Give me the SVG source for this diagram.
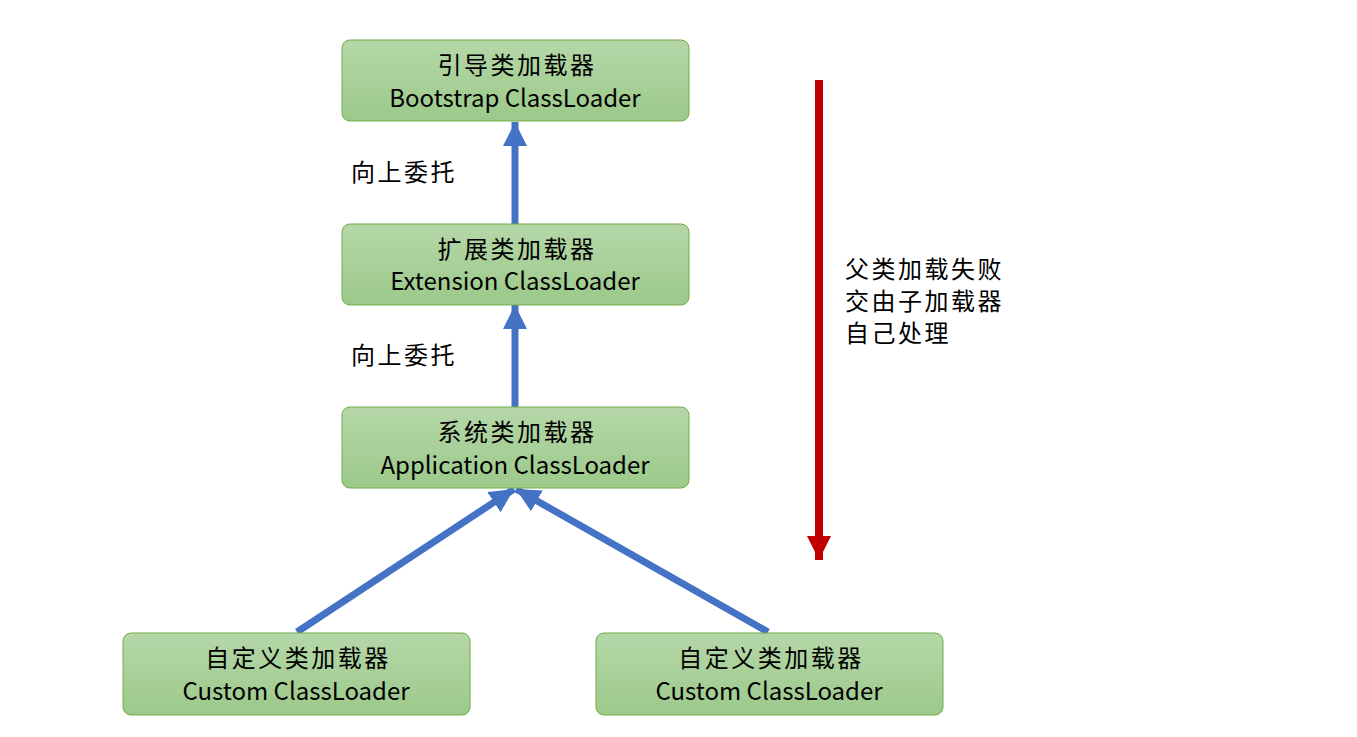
<svg xmlns="http://www.w3.org/2000/svg" width="1357" height="737" viewBox="0 0 1357 737">
  <defs>
    <linearGradient id="boxFill" x1="0" y1="0" x2="0" y2="1">
      <stop offset="0" stop-color="#b5d7a8"/>
      <stop offset="1" stop-color="#9cc98a"/>
    </linearGradient>
    <marker id="blueHead" markerUnits="userSpaceOnUse" markerWidth="24" markerHeight="26" refX="24" refY="12" orient="auto">
      <path d="M0,0 L24,12 L0,24 Z" fill="#4472c4"/>
    </marker>
    <marker id="redHead" markerUnits="userSpaceOnUse" markerWidth="24" markerHeight="26" refX="24" refY="12" orient="auto">
      <path d="M0,0 L24,12 L0,24 Z" fill="#c00000"/>
    </marker>
  </defs>
  <style>
    .box { fill: url(#boxFill); stroke: #70ad47; stroke-width: 1; }
    .cn { font-family: "Microsoft YaHei", "Noto Sans CJK SC", sans-serif; font-size: 24px; letter-spacing: 2.5px; fill: #000; text-anchor: middle; }
    .en { font-family: "Microsoft YaHei", "Noto Sans CJK SC", sans-serif; font-size: 24px; fill: #000; text-anchor: middle; }
    .lbl { font-family: "Microsoft YaHei", "Noto Sans CJK SC", sans-serif; font-size: 24px; letter-spacing: 2.5px; fill: #000; }
    .up { stroke: #4472c4; stroke-width: 7; fill: none; marker-end: url(#blueHead); }
    .down { stroke: #c00000; stroke-width: 8; fill: none; marker-end: url(#redHead); }
  </style>

  <g id="connectors">
    <line class="up" x1="515" y1="224" x2="515" y2="122"/>
    <line class="up" x1="515" y1="407" x2="515" y2="305"/>
    <line class="up" x1="297" y1="632" x2="514" y2="489"/>
    <line class="up" x1="768" y1="632" x2="516" y2="489"/>
    <line class="down" x1="819" y1="80" x2="819" y2="560"/>
  </g>

  <g id="bootstrap">
    <rect class="box" x="342" y="40" width="347" height="81" rx="8"/>
    <text class="cn" x="517" y="74">引导类加载器</text>
    <text class="en" x="515" y="107">Bootstrap ClassLoader</text>
  </g>

  <g id="extension">
    <rect class="box" x="342" y="224" width="347" height="81" rx="8"/>
    <text class="cn" x="517" y="258">扩展类加载器</text>
    <text class="en" x="515" y="290">Extension ClassLoader</text>
  </g>

  <g id="application">
    <rect class="box" x="342" y="407" width="347" height="81" rx="8"/>
    <text class="cn" x="517" y="441">系统类加载器</text>
    <text class="en" x="515" y="474">Application ClassLoader</text>
  </g>

  <g id="custom-left">
    <rect class="box" x="123" y="633" width="347" height="82" rx="8"/>
    <text class="cn" x="298" y="667">自定义类加载器</text>
    <text class="en" x="296" y="700">Custom ClassLoader</text>
  </g>

  <g id="custom-right">
    <rect class="box" x="596" y="633" width="347" height="82" rx="8"/>
    <text class="cn" x="771" y="667">自定义类加载器</text>
    <text class="en" x="769" y="700">Custom ClassLoader</text>
  </g>

  <g id="delegate-label-1">
    <text class="lbl" x="351" y="181">向上委托</text>
  </g>
  <g id="delegate-label-2">
    <text class="lbl" x="351" y="364">向上委托</text>
  </g>

  <g id="fallback-label">
    <text class="lbl" x="845" y="278">父类加载失败</text>
    <text class="lbl" x="845" y="310">交由子加载器</text>
    <text class="lbl" x="845" y="342">自己处理</text>
  </g>
</svg>
